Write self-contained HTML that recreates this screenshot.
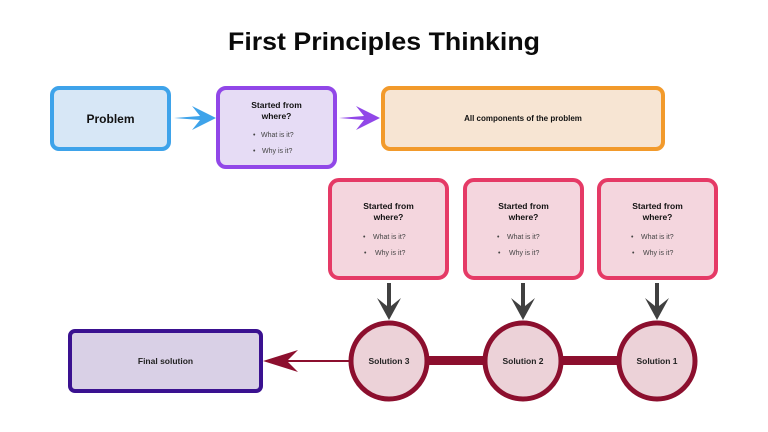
<!DOCTYPE html>
<html><head><meta charset="utf-8"><style>
html,body{margin:0;padding:0;background:#fff;}
svg{display:block;font-family:"Liberation Sans",sans-serif;}
</style></head><body>
<svg width="768" height="432" viewBox="0 0 768 432" xmlns="http://www.w3.org/2000/svg">
<rect width="768" height="432" fill="#fff"/>
<text x="384" y="50" text-anchor="middle" font-size="25" font-weight="bold" fill="#0a0a0a" textLength="312" lengthAdjust="spacingAndGlyphs">First Principles Thinking</text>

<!-- Problem -->
<rect x="52" y="88" width="117" height="61" rx="7" fill="#d7e7f6" stroke="#3ea3ea" stroke-width="4"/>
<text x="110.5" y="123" text-anchor="middle" font-size="12" font-weight="bold" fill="#111">Problem</text>
<!-- blue arrow -->
<path d="M174 118 L200 116 L192 106 L216 118 L192 130 L200 120 Z" fill="#3ea3ea"/>

<!-- Purple box -->
<rect x="218" y="88" width="117" height="79" rx="8" fill="#e6dcf5" stroke="#9147e8" stroke-width="4"/>
<text x="276.5" y="108" text-anchor="middle" font-size="8.5" font-weight="bold" fill="#111">Started from</text>
<text x="276.5" y="119" text-anchor="middle" font-size="8.5" font-weight="bold" fill="#111">where?</text>
<text x="253" y="137" font-size="7" fill="#444">•</text><text x="261" y="137" font-size="7" fill="#444">What is it?</text>
<text x="253" y="153" font-size="7" fill="#444">•</text><text x="262" y="153" font-size="7" fill="#444">Why is it?</text>
<!-- purple arrow -->
<path d="M339 118 L364 116 L356 106 L380 118 L356 130 L364 120 Z" fill="#9147e8"/>

<!-- Orange box -->
<rect x="383" y="88" width="280" height="61" rx="7" fill="#f7e5d3" stroke="#f29a2b" stroke-width="4"/>
<text x="523" y="121" text-anchor="middle" font-size="8" font-weight="bold" fill="#111">All components of the problem</text>

<!-- pink boxes -->
<g>
<rect x="330" y="180" width="117" height="98" rx="9" fill="#f4d6de" stroke="#e53a66" stroke-width="4"/>
<text x="388.5" y="209" text-anchor="middle" font-size="8.5" font-weight="bold" fill="#111">Started from</text>
<text x="388.5" y="220" text-anchor="middle" font-size="8.5" font-weight="bold" fill="#111">where?</text>
<text x="363" y="239" font-size="7" fill="#444">•</text><text x="373" y="239" font-size="7" fill="#444">What is it?</text>
<text x="364" y="255" font-size="7" fill="#444">•</text><text x="375" y="255" font-size="7" fill="#444">Why is it?</text>
</g>
<g>
<rect x="465" y="180" width="117" height="98" rx="9" fill="#f4d6de" stroke="#e53a66" stroke-width="4"/>
<text x="523.5" y="209" text-anchor="middle" font-size="8.5" font-weight="bold" fill="#111">Started from</text>
<text x="523.5" y="220" text-anchor="middle" font-size="8.5" font-weight="bold" fill="#111">where?</text>
<text x="497" y="239" font-size="7" fill="#444">•</text><text x="507" y="239" font-size="7" fill="#444">What is it?</text>
<text x="498" y="255" font-size="7" fill="#444">•</text><text x="509" y="255" font-size="7" fill="#444">Why is it?</text>
</g>
<g>
<rect x="599" y="180" width="117" height="98" rx="9" fill="#f4d6de" stroke="#e53a66" stroke-width="4"/>
<text x="657.5" y="209" text-anchor="middle" font-size="8.5" font-weight="bold" fill="#111">Started from</text>
<text x="657.5" y="220" text-anchor="middle" font-size="8.5" font-weight="bold" fill="#111">where?</text>
<text x="631" y="239" font-size="7" fill="#444">•</text><text x="641" y="239" font-size="7" fill="#444">What is it?</text>
<text x="632" y="255" font-size="7" fill="#444">•</text><text x="643" y="255" font-size="7" fill="#444">Why is it?</text>
</g>

<!-- down arrows -->
<g fill="#404040">
<path d="M387 283 L391 283 L391 306 L401 298 L389 320 L377 298 L387 306 Z"/>
<path d="M521 283 L525 283 L525 306 L535 298 L523 320 L511 298 L521 306 Z"/>
<path d="M655 283 L659 283 L659 306 L669 298 L657 320 L645 298 L655 306 Z"/>
</g>

<!-- connector bars -->
<rect x="425" y="356" width="65" height="9" fill="#8c0f2e"/>
<rect x="560" y="356" width="62" height="9" fill="#8c0f2e"/>

<!-- circles -->
<circle cx="389" cy="361" r="38" fill="#ecd2d8" stroke="#8c0f2e" stroke-width="5"/>
<circle cx="523" cy="361" r="38" fill="#ecd2d8" stroke="#8c0f2e" stroke-width="5"/>
<circle cx="657" cy="361" r="38" fill="#ecd2d8" stroke="#8c0f2e" stroke-width="5"/>
<text x="389" y="364" text-anchor="middle" font-size="8.5" font-weight="bold" fill="#222">Solution 3</text>
<text x="523" y="364" text-anchor="middle" font-size="8.5" font-weight="bold" fill="#222">Solution 2</text>
<text x="657" y="364" text-anchor="middle" font-size="8.5" font-weight="bold" fill="#222">Solution 1</text>

<!-- red arrow -->
<path d="M350 360 L288 360 L298 350 L263 361 L298 372 L288 362 L350 362 Z" fill="#8c0f2e"/>

<!-- Final solution -->
<rect x="70" y="331" width="191" height="60" rx="5" fill="#d9d0e6" stroke="#3a1190" stroke-width="4"/>
<text x="165.5" y="364" text-anchor="middle" font-size="8.5" font-weight="bold" fill="#222">Final solution</text>
</svg>
</body></html>
